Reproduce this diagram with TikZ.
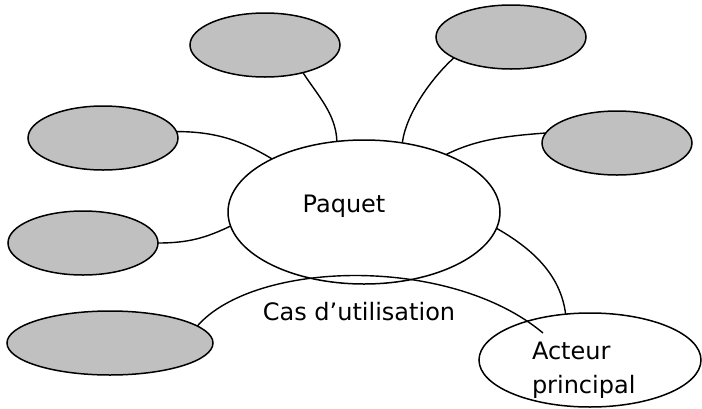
\documentclass[tikz,border=0pt]{standalone}
\usepackage{fontspec}
\setmainfont{DejaVu Sans}
\usetikzlibrary{shapes.geometric}
\begin{document}
\begin{tikzpicture}[x=1pt,y=-1pt,
  every node/.style={inner sep=0pt, outer sep=0pt},
  grayell/.style={ellipse, draw=black, line width=1.5pt, fill={rgb,255:red,192;green,192;blue,192}, minimum width=150pt, minimum height=64pt},
  whiteell/.style={ellipse, draw=black, line width=1.5pt},
  lbl/.style={font=\fontsize{24}{28}\selectfont, text=black},
  conn/.style={draw=black, line width=1.4pt}]
\useasboundingbox (0,0) rectangle (702,408);
% nodes
\node[whiteell, minimum width=272pt, minimum height=144pt] (p) at (364,212) {};
\node[whiteell, minimum width=222pt, minimum height=94pt] (a) at (590,360) {};
\node[grayell] (e1) at (265,45) {};
\node[grayell] (e2) at (511,37) {};
\node[grayell] (e3) at (103,138) {};
\node[grayell] (e4) at (617,143) {};
\node[grayell] (e5) at (83,243) {};
\node[grayell, minimum width=206pt] (e6) at (110,343) {};
\coordinate (aend) at (543,333);
% labels
\node[lbl, anchor=base] (tp) at (344,212) {Paquet};
\node[lbl, anchor=base] (tc) at (359,320) {Cas d’utilisation};
\node[lbl, anchor=base west] (ta1) at (532,359) {Acteur};
\node[lbl, anchor=base west] (ta2) at (532,393) {principal};
% connectors
\draw[conn] (p.111) .. controls +(-1,-28) and +(14,22) .. (e1.324);
\draw[conn] (p.150) .. controls +(-30,-18) and +(40,0) .. (e3.5);
\draw[conn] (p.61) .. controls +(4,-30) and +(-22,20) .. (e2.200);
\draw[conn] (p.35) .. controls +(30,-15) and +(-40,3) .. (e4.172);
\draw[conn] (p.186) .. controls +(-25,12) and +(30,0) .. (e5.0);
\draw[conn] (e6.11) .. controls (255,260) and (450,255) .. (aend);
\draw[conn] (p.353) .. controls +(35,20) and +(-5,-40) .. (a.118);
\end{tikzpicture}
\end{document}
